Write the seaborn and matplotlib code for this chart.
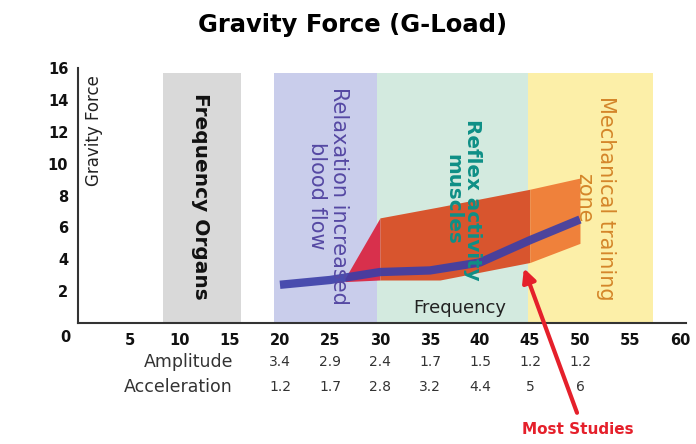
"""
Gravity force (G-load) versus vibration frequency, with frequency zones
"""

import matplotlib.pyplot as plt
import numpy as np
import pandas as pd
import seaborn as sns

# frequency zones (start, end, label, band colour, text colour)
zone_start = [8.3, 19.4, 29.7, 44.8]
zone_end = [16.1, 29.7, 44.8, 57.3]
zone_colors = ["#d9d9d9", "#c9cdeb", "#d3eadf", "#fcefa8"]

# main G-load curve
freq = [20, 25, 30, 35, 40, 45, 50]
g_load = [2.4, 2.7, 3.2, 3.3, 3.8, 5.2, 6.5]

# "most studies" shaded region
band_x = [26.5, 30, 36, 45, 50]
band_hi = [2.8, 6.6, 7.3, 8.4, 9.1]
band_lo = [2.6, 2.7, 2.7, 3.8, 5.0]

# table under the axis
table_freq = [20, 25, 30, 35, 40, 45, 50]
amplitude = ["3.4", "2.9", "2.4", "1.7", "1.5", "1.2", "1.2"]
acceleration = ["1.2", "1.7", "2.8", "3.2", "4.4", "5", "6"]

sns.set_style("white")
plt.rcParams['font.family'] = ['DejaVu Sans']

fig = plt.figure(figsize=(6.96, 4.44), dpi=100)
ax = fig.add_axes([0.112, 0.2725, 0.8736, 0.574])

# background zones
for x0, x1, c in zip(zone_start, zone_end, zone_colors):
    ax.axvspan(x0, x1, ymin=0, ymax=15.7 / 16, color=c, lw=0, zorder=0)

# shaded region in three colours
bx = np.array(band_x)
ax.fill_between(bx, band_lo, band_hi, where=bx <= 30, color="#d8304c", lw=0, zorder=1)
ax.fill_between(bx, band_lo, band_hi, where=(bx >= 30) & (bx <= 45), color="#d8552e", lw=0, zorder=1)
ax.fill_between(bx, band_lo, band_hi, where=bx >= 45, color="#ef813b", lw=0, zorder=1)

# main curve
df = pd.DataFrame({"freq": freq, "g": g_load})
sns.lineplot(data=df, x="freq", y="g", ax=ax, color="#3b3ea8", lw=6, alpha=0.9,
             solid_capstyle="butt", zorder=3)

# zone labels
ax.text(1.4, 12.1, "Gravity Force", rotation=90, ha="center", va="center",
        fontsize=12, color="#222222")
ax.text(12.1, 7.97, "Frequency Organs", rotation=-90, ha="center", va="center",
        fontsize=14.5, weight="bold", color="#111111")
ax.text(24.8, 7.97, "Relaxation increased\nblood flow", rotation=-90, ha="center",
        va="center", multialignment="center", fontsize=15, color="#5548a3",
        linespacing=1.1, zorder=4)
ax.text(38.3, 7.75, "Reflex activity\nmuscles", rotation=-90, ha="center",
        va="center", multialignment="center", fontsize=14.3, weight="bold",
        color="#0e8f86", linespacing=1.05, zorder=4)
ax.text(51.5, 7.85, "Mechanical training\nzone", rotation=-90, ha="center",
        va="center", multialignment="center", fontsize=15, color="#d4862a",
        linespacing=1.1, zorder=4)
ax.text(38.0, 0.95, "Frequency", ha="center", va="center", fontsize=13,
        color="#222222")

# axes styling
ax.set_xlim(-0.2, 60.6)
ax.set_ylim(0, 16)
ax.set_xticks(range(5, 61, 5))
ax.set_yticks(range(2, 17, 2))
ax.tick_params(length=0, labelsize=10.5, colors="#111111")
ax.tick_params(axis="x", pad=7)
ax.tick_params(axis="y", pad=7)
for lab in ax.get_xticklabels() + ax.get_yticklabels():
    lab.set_fontweight("bold")
ax.set_xlabel("")
ax.set_ylabel("")
sns.despine(ax=ax)
for s in ["left", "bottom"]:
    ax.spines[s].set_color("#333333")
    ax.spines[s].set_linewidth(1.5)
ax.text(-1.5, -0.9, "0", ha="center", va="center", fontsize=10.5,
        weight="bold", color="#111111", clip_on=False)

# table rows
ax.text(15.3, -2.45, "Amplitude", ha="right", va="center", fontsize=12.5,
        color="#333333", clip_on=False)
ax.text(15.3, -4.0, "Acceleration", ha="right", va="center", fontsize=12.5,
        color="#333333", clip_on=False)
for f, a, g in zip(table_freq, amplitude, acceleration):
    ax.text(f, -2.45, a, ha="center", va="center", fontsize=10,
            color="#333333", clip_on=False)
    ax.text(f, -4.0, g, ha="center", va="center", fontsize=10,
            color="#333333", clip_on=False)

# arrow + label
ax.annotate("", xy=(44.3, 3.6), xytext=(49.8, -5.8),
            arrowprops=dict(arrowstyle="-|>,head_length=0.8,head_width=0.4",
                            color="#e5202b", lw=3),
            annotation_clip=False, zorder=5)
ax.text(49.8, -6.7, "Most Studies", ha="center", va="center", fontsize=11,
        weight="bold", color="#e5202b", clip_on=False)

fig.suptitle("Gravity Force (G-Load)", x=0.507, y=0.944, va="center",
             fontsize=17.5, weight="bold", color="black")

plt.savefig("out.png", dpi=100)
plt.close()
